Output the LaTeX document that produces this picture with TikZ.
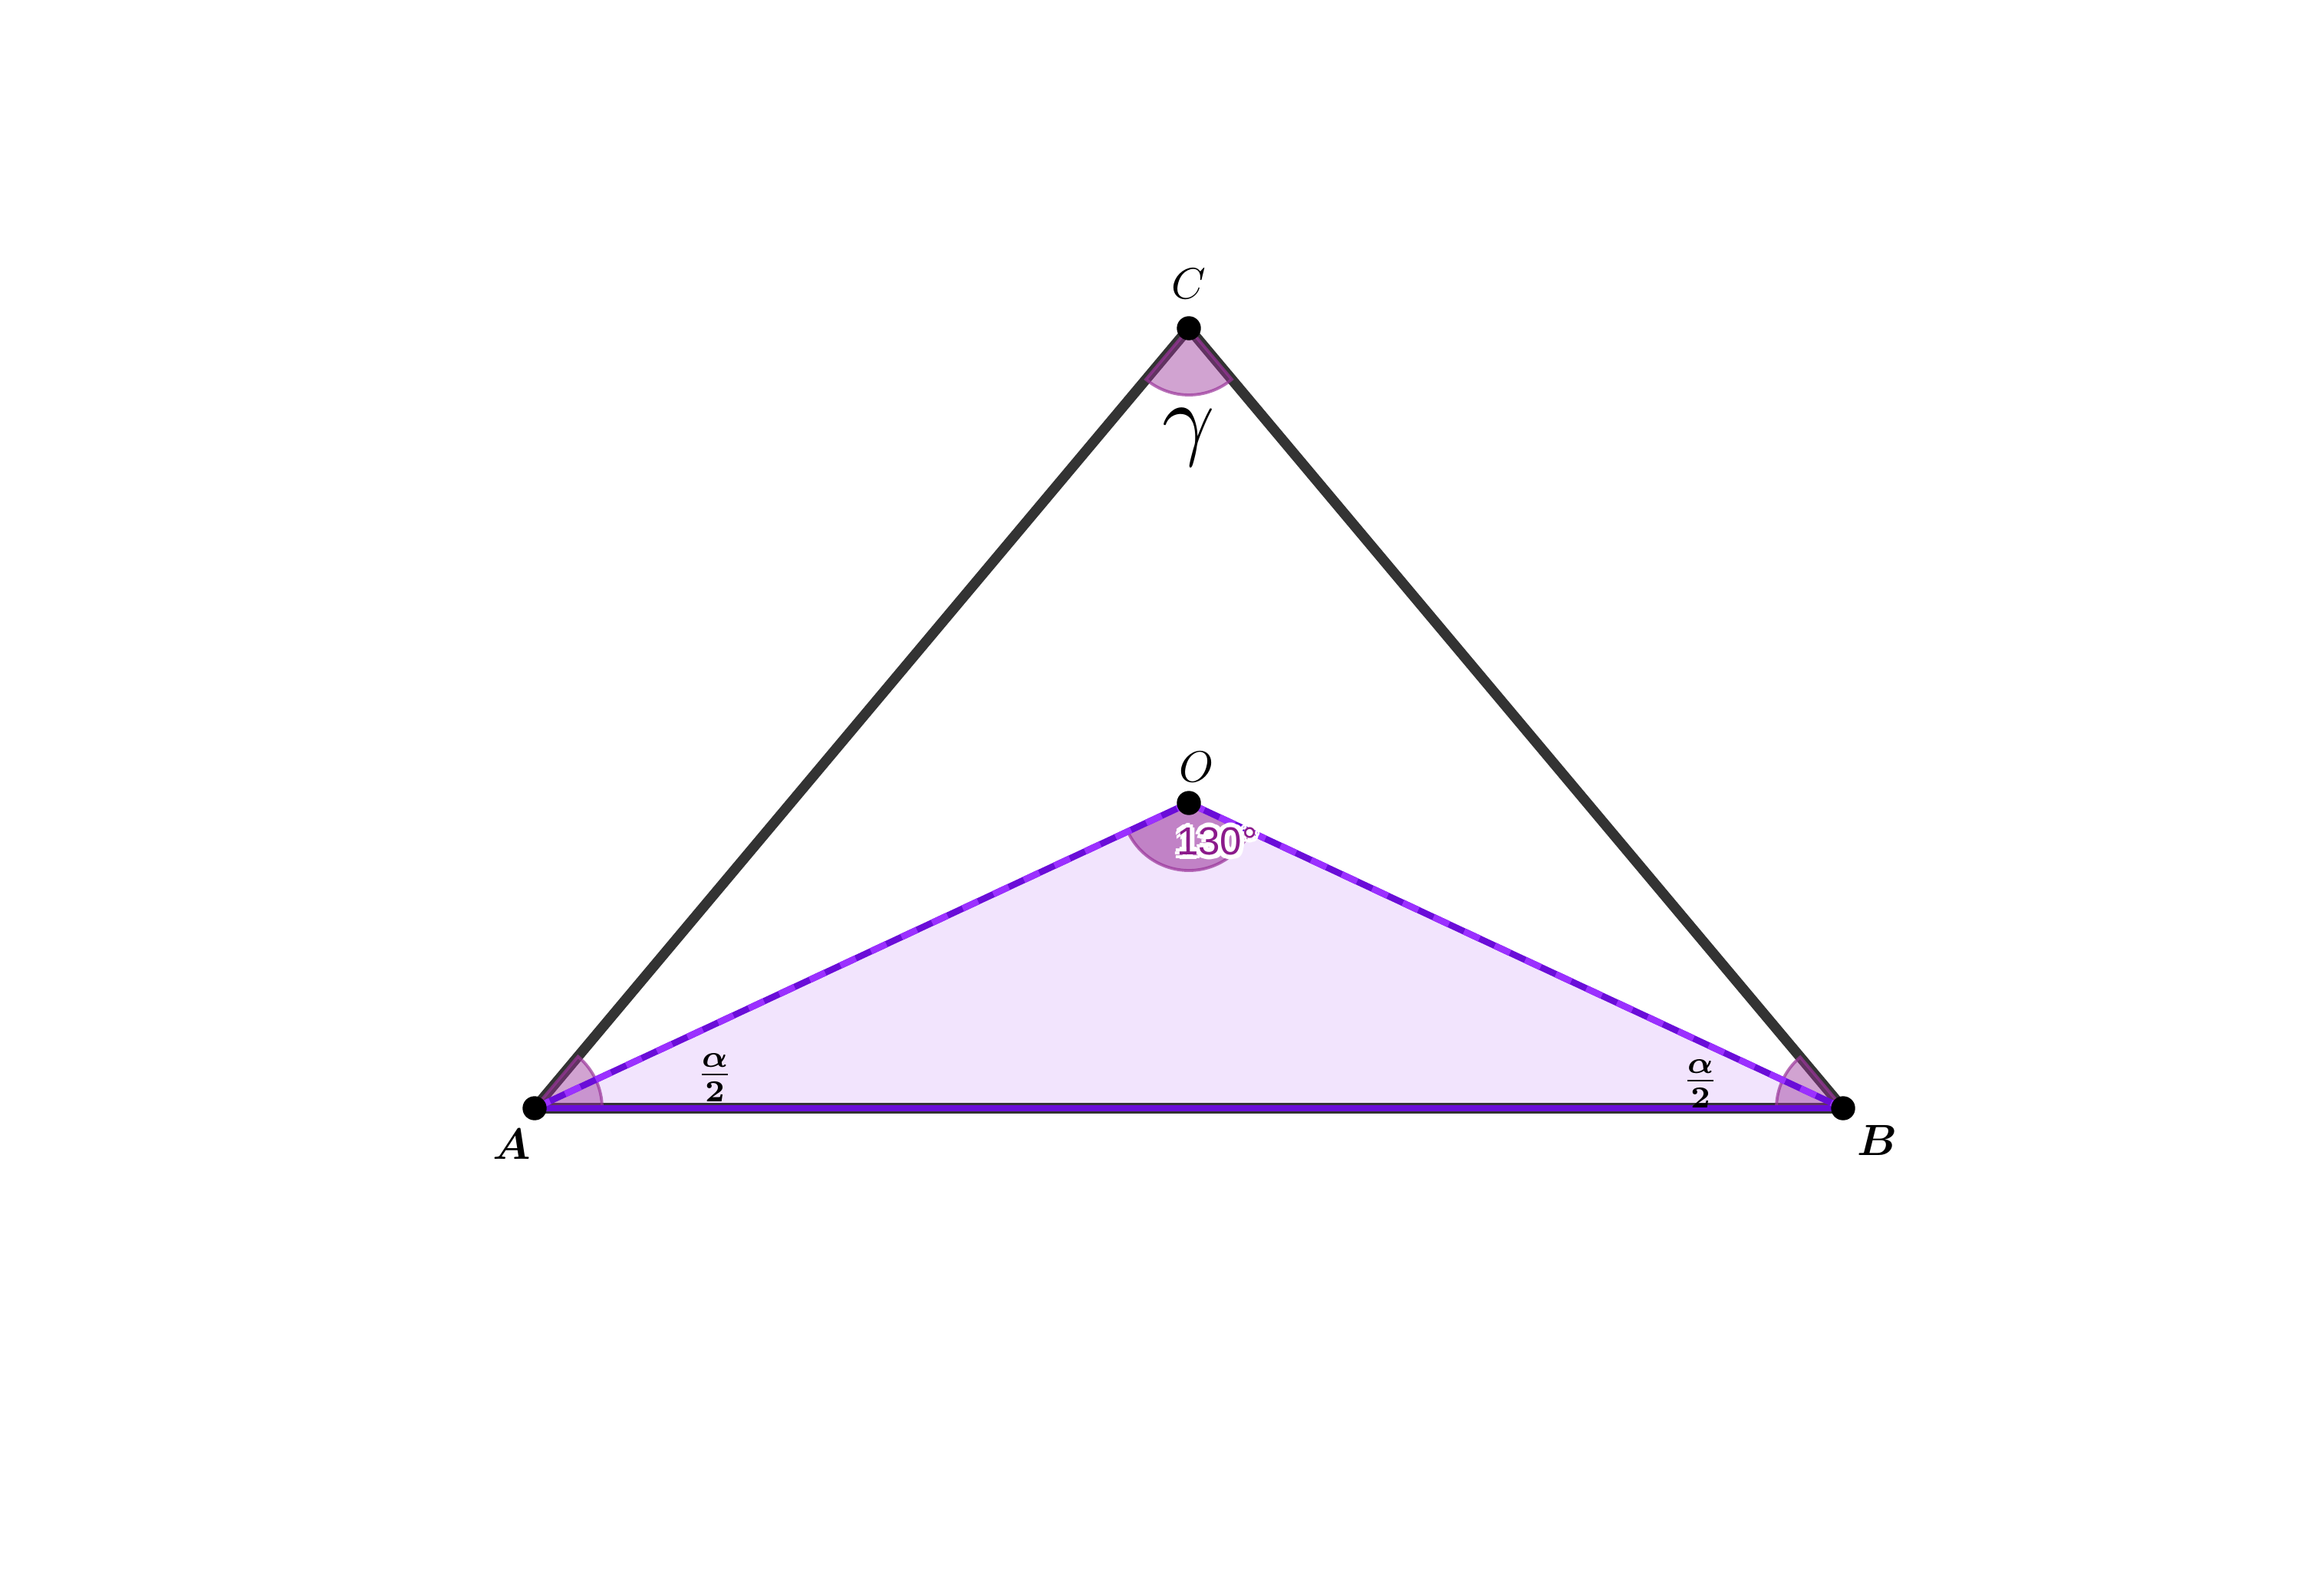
\documentclass[tikz,border=0pt]{standalone}
\usepackage{fontspec}
\usepackage{amsmath}
\newfontfamily\gradschrift{Liberation Sans}
\definecolor{seitengrau}{HTML}{333333}
\definecolor{dreieckfuell}{HTML}{F2E4FD}
\definecolor{lilaDunkel}{HTML}{6A0DD8}
\definecolor{lilaHell}{HTML}{9B30FF}
\definecolor{winkellila}{HTML}{993399}
\definecolor{gradlila}{HTML}{8B1A8B}

\begin{document}
\begin{tikzpicture}[
  seite/.style={line width=3.8pt, draw=seitengrau, line cap=round},
  strecke/.style={line width=2.4pt, draw=lilaDunkel},
  streckeHell/.style={line width=2.4pt, draw=lilaHell, dash pattern=on 0.22cm off 0.22cm},
  winkel/.style={fill=winkellila, fill opacity=0.45, draw=winkellila, draw opacity=0.7, line width=1.1pt},
  beschriftung/.style={scale=1.62, inner sep=0pt},
  grad/.style={font=\gradschrift\fontsize{14.5}{17}\selectfont, inner sep=0pt}
]
  \useasboundingbox (0,0) rectangle (30,20.8);

  % Eckpunkte
  \coordinate (A) at (6.97,6.35);
  \coordinate (B) at (24.03,6.35);
  \coordinate (C) at (15.5,16.52);
  \coordinate (O) at (15.5,10.33);

  % Dreieck AOB
  \fill[dreieckfuell] (A) -- (O) -- (B) -- cycle;

  % Seiten
  \draw[seite] (A) -- (C) -- (B);
  \draw[seite] (A) -- (B);

  % Winkel
  \draw[winkel] (C) -- ++(-130:0.87) arc (-130:-50:0.87) -- cycle;
  \draw[winkel, fill opacity=0.55] (O) -- ++(205:0.88) arc (205:335:0.88) -- cycle;
  \draw[winkel] (A) -- ++(0:0.88) arc (0:50:0.88) -- cycle;
  \draw[winkel] (B) -- ++(130:0.87) arc (130:180:0.87) -- cycle;

  % Strecken zu O
  \draw[strecke] (A) -- (B);
  \draw[strecke] (A) -- (O) -- (B);
  \draw[streckeHell] (A) -- (O);
  \draw[streckeHell] (O) -- (B);

  % Punkte
  \filldraw[black] (A) circle (0.15);
  \filldraw[black] (B) circle (0.15);
  \filldraw[black] (C) circle (0.15);
  \filldraw[black] (O) circle (0.15);

  % Beschriftungen
  \node[beschriftung] (lC) at ([yshift=0.58cm]C) {$C$};
  \node[beschriftung, scale=2.1] (lGamma) at ([yshift=-1.42cm]C) {$\gamma$};
  \node[beschriftung] (lO) at ([xshift=0.1cm, yshift=0.47cm]O) {$O$};
  \node[beschriftung] (lA) at ([xshift=-0.3cm, yshift=-0.47cm]A) {$\boldsymbol{A}$};
  \node[beschriftung] (lB) at ([xshift=0.45cm, yshift=-0.42cm]B) {$\boldsymbol{B}$};
  \node[beschriftung] (lAlphaA) at ([xshift=2.35cm, yshift=0.4cm]A) {$\boldsymbol{\frac{\alpha}{2}}$};
  \node[beschriftung] (lAlphaB) at ([xshift=-1.86cm, yshift=0.32cm]B) {$\boldsymbol{\frac{\alpha}{2}}$};

  % Gradzahl mit weissem Rand
  \foreach \dx/\dy in {0.06/0, -0.06/0, 0/0.06, 0/-0.06, 0.045/0.045, -0.045/0.045, 0.045/-0.045, -0.045/-0.045}
    \node[grad, text=white] at ([xshift=\dx cm, yshift=\dy cm]15.87,9.83) {130°};
  \node[grad, text=gradlila] (lGrad) at (15.87,9.83) {130°};
\end{tikzpicture}
\end{document}
